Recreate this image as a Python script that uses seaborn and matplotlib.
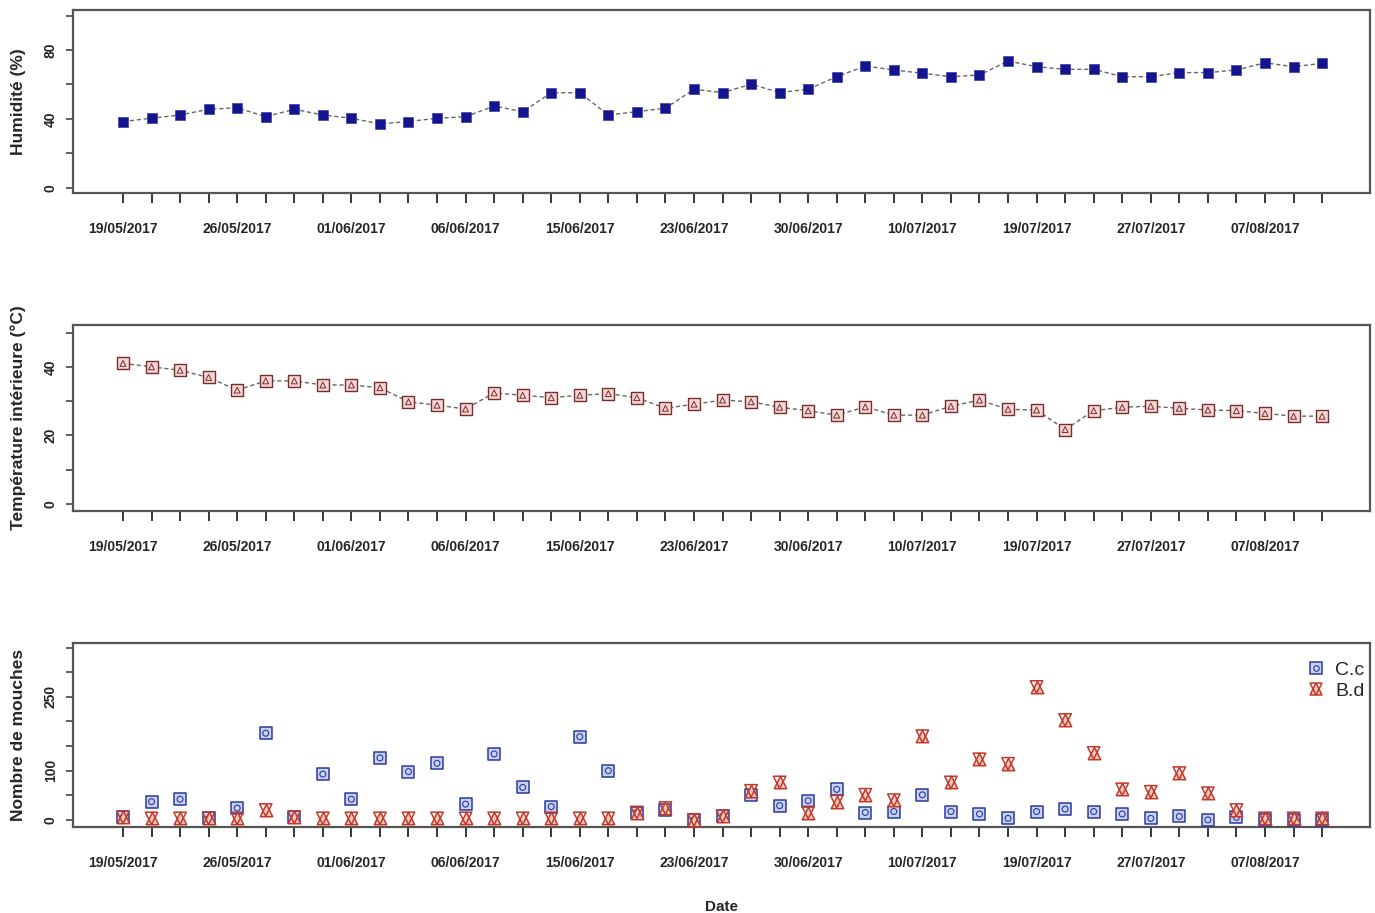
import matplotlib
matplotlib.use("Agg")
import matplotlib.pyplot as plt
from matplotlib.lines import Line2D
import numpy as np
import pandas as pd
import seaborn as sns

# labels shown every 4th sampling date
date_labels = ["19/05/2017", "26/05/2017", "01/06/2017", "06/06/2017",
               "15/06/2017", "23/06/2017", "30/06/2017", "10/07/2017",
               "19/07/2017", "27/07/2017", "07/08/2017"]
label_step = 4

humidite = [38.5, 40.4, 42.3, 45.6, 46.5, 41.3, 45.6, 42.3, 40.4, 37.1,
            38.5, 40.4, 41.3, 47.5, 44.2, 55.2, 55.2, 42.3, 44.2, 46.2,
            57.2, 55.3, 60.1, 55.3, 57.2, 64.5, 70.7, 68.4, 66.5, 64.5,
            65.5, 73.6, 70.3, 68.8, 68.8, 64.5, 64.5, 66.9, 66.9, 68.4,
            72.6, 70.3, 72.3]

temperature = [41.0, 40.0, 39.0, 36.9, 33.2, 35.9, 35.9, 34.7, 34.7, 33.9,
               29.8, 28.8, 27.7, 32.4, 31.7, 31.0, 31.7, 32.2, 31.0, 27.9,
               29.1, 30.3, 29.8, 28.2, 27.2, 25.9, 28.3, 25.9, 25.9, 28.5,
               30.3, 27.6, 27.4, 21.7, 27.2, 28.2, 28.5, 27.9, 27.4, 27.2,
               26.4, 25.6, 25.6]

mouches_cc = [5, 37, 42, 3, 24, 176, 5, 93, 42, 126,
              98, 115, 32, 134, 66, 27, 169, 100, 15, 20,
              0, 7, 51, 29, 39, 62, 15, 17, 51, 17,
              12, 3, 17, 22, 17, 12, 3, 7, 0, 5,
              0, 0, 0]

mouches_bd = [5, 3, 3, 3, 3, 20, 5, 3, 3, 3,
              3, 3, 3, 3, 3, 3, 3, 3, 15, 24,
              0, 7, 59, 76, 15, 37, 51, 40, 170, 76,
              123, 114, 270, 203, 136, 62, 57, 95, 54, 20,
              3, 3, 3]

n = len(humidite)
idx = np.arange(n)
df = pd.DataFrame({"i": idx, "humidite": humidite, "temperature": temperature,
                   "cc": mouches_cc, "bd": mouches_bd})
tick_text = [date_labels[i // label_step] if i % label_step == 0 else "" for i in idx]

sns.set_style("ticks")
plt.rcParams["font.family"] = ["Liberation Sans", "DejaVu Sans"]
plt.rcParams["font.weight"] = "bold"
plt.rcParams["axes.labelweight"] = "bold"

fig = plt.figure(figsize=(13.75, 9.13), dpi=100)
left, width = 0.0531, 0.9433
ax1 = fig.add_axes([left, 0.7886, width, 0.2004])
ax2 = fig.add_axes([left, 0.4406, width, 0.2034])
ax3 = fig.add_axes([left, 0.0939, width, 0.2022])


def style_axis(ax, ylim, yticks, ylabels, ylabel):
    ax.set_xlim(-1.75, n - 1 + 1.68)
    ax.set_ylim(*ylim)
    ax.set_xticks(idx)
    ax.set_xticklabels(tick_text, fontsize=10, fontweight="bold")
    ax.set_yticks(yticks)
    ax.set_yticklabels(ylabels, fontsize=10, fontweight="bold", rotation=90, va="center")
    ax.tick_params(axis="x", length=7, width=1.1, pad=14, color="black")
    ax.tick_params(axis="y", length=5, width=1.1, pad=6, color="#333333")
    ax.set_xlabel("")
    ax.set_ylabel(ylabel, fontsize=12.5, fontweight="bold")
    ax.yaxis.set_label_coords(-0.0365, 0.5)
    for sp in ax.spines.values():
        sp.set_visible(True)
        sp.set_color("#555555")
        sp.set_linewidth(1.6)


# humidity
sns.lineplot(data=df, x="i", y="humidite", ax=ax1, color="#666666",
             linestyle=(0, (3, 2)), linewidth=1.0)
sns.scatterplot(data=df, x="i", y="humidite", ax=ax1, marker="s", s=42,
                color="#14148c", edgecolor="#3a3ab0", linewidth=0.5, zorder=3)
style_axis(ax1, (-3, 103.2), [0, 20, 40, 60, 80, 100],
           ["0", "", "40", "", "80", ""], "Humidité (%)")

# temperature
sns.lineplot(data=df, x="i", y="temperature", ax=ax2, color="#666666",
             linestyle=(0, (3, 2)), linewidth=1.0)
sns.scatterplot(data=df, x="i", y="temperature", ax=ax2, marker="s", s=64,
                color="#f3d6d6", edgecolor="#7b2d2d", linewidth=1.0, zorder=3)
sns.scatterplot(data=df, x="i", y="temperature", ax=ax2, marker="^", s=18,
                facecolor="none", edgecolor="#7b2d2d", linewidth=0.7, zorder=4)
style_axis(ax2, (-2, 52.2), [0, 10, 20, 30, 40, 50],
           ["0", "", "20", "", "40", ""], "Température intérieure (°C)")

# flies
blue_edge, blue_face = "#2b3a9b", "#c9d1f2"
red_edge, red_face = "#c0392b", "#f7c9bb"
sns.scatterplot(data=df, x="i", y="cc", ax=ax3, marker="s", s=75,
                color=blue_face, edgecolor=blue_edge, linewidth=1.1, zorder=3)
sns.scatterplot(data=df, x="i", y="cc", ax=ax3, marker="o", s=18,
                facecolor="none", edgecolor=blue_edge, linewidth=0.8, zorder=3)
sns.scatterplot(data=df, x="i", y="bd", ax=ax3, marker="^", s=80,
                color=red_face, edgecolor=red_edge, linewidth=1.1, zorder=4)
sns.scatterplot(data=df, x="i", y="bd", ax=ax3, marker="v", s=80,
                facecolor="none", edgecolor=red_edge, linewidth=1.1, zorder=4)
style_axis(ax3, (-15, 360), [0, 50, 100, 150, 200, 250, 300, 350],
           ["0", "", "100", "", "", "250", "", ""], "Nombre de mouches")
ax3.set_xlabel("Date", fontsize=11, fontweight="bold", labelpad=21)

cc_handle = (Line2D([], [], marker="s", ls="", ms=8.5, mfc=blue_face, mec=blue_edge, mew=1.1),
             Line2D([], [], marker="o", ls="", ms=4, mfc="none", mec=blue_edge, mew=0.8))
bd_handle = (Line2D([], [], marker="^", ls="", ms=9, mfc=red_face, mec=red_edge, mew=1.1),
             Line2D([], [], marker="v", ls="", ms=9, mfc="none", mec=red_edge, mew=1.1))
ax3.legend([cc_handle, bd_handle], ["C.c", "B.d"], loc="upper right",
           bbox_to_anchor=(1.002, 0.94), frameon=False,
           prop={"weight": "normal", "size": 14}, handlelength=1.0,
           handletextpad=0.5, labelspacing=0.15, borderaxespad=0)

fig.savefig("out.png", dpi=100)
